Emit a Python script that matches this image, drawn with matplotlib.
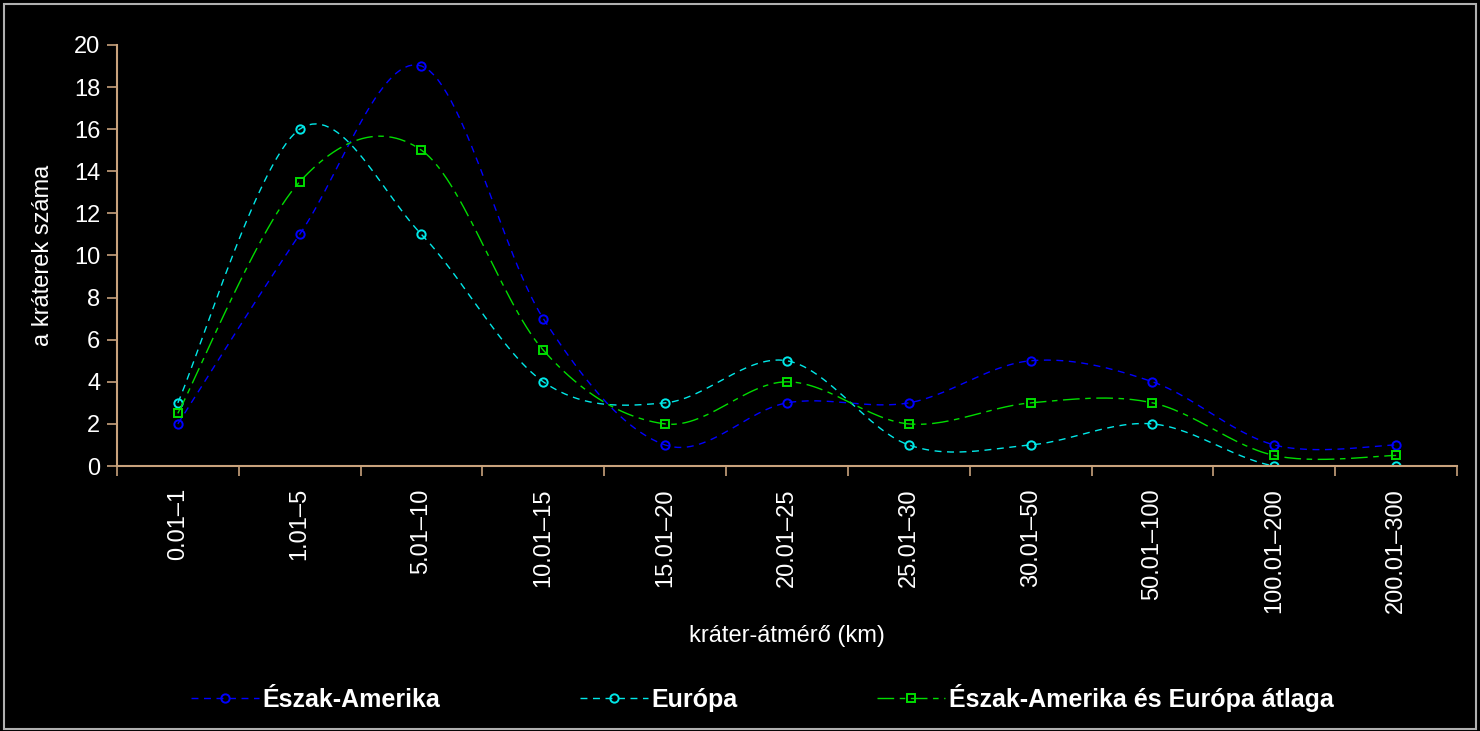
import numpy as np
import matplotlib
matplotlib.use("Agg")
import matplotlib.pyplot as plt
from matplotlib.patches import Rectangle
from matplotlib.lines import Line2D

categories = ["0.01\u20131", "1.01\u20135", "5.01\u201310", "10.01\u201315",
              "15.01\u201320", "20.01\u201325", "25.01\u201330", "30.01\u201350",
              "50.01\u2013100", "100.01\u2013200", "200.01\u2013300"]
north_america = [2, 11, 19, 7, 1, 3, 3, 5, 4, 1, 1]
europe = [3, 16, 11, 4, 3, 5, 1, 1, 2, 0, 0]
average = [2.5, 13.5, 15, 5.5, 2, 4, 2, 3, 3, 0.5, 0.5]

plt.rcParams["font.family"] = ["Liberation Sans", "DejaVu Sans"]

AXIS_COLOR = "#c8a27c"


def smooth(y, steps=30):
    """Catmull-Rom style Bezier smoothing through the points (x = index)."""
    y = np.asarray(y, dtype=float)
    x = np.arange(len(y), dtype=float)
    pts = np.column_stack([x, y])
    ext = np.vstack([pts[0], pts, pts[-1]])
    out = []
    t = np.linspace(0, 1, steps)[:, None]
    for i in range(len(pts) - 1):
        p0, p3 = ext[i + 1], ext[i + 2]
        p1 = p0 + (ext[i + 2] - ext[i]) / 6.0
        p2 = p3 - (ext[i + 3] - ext[i + 1]) / 6.0
        seg = ((1 - t) ** 3) * p0 + 3 * ((1 - t) ** 2) * t * p1 \
            + 3 * (1 - t) * t ** 2 * p2 + t ** 3 * p3
        out.append(seg if i == 0 else seg[1:])
    seg = np.vstack(out)
    return seg[:, 0], seg[:, 1]


fig = plt.figure(figsize=(14.8, 7.31), dpi=100, facecolor="black")
fig.patches.append(Rectangle((0.003, 0.003), 0.994, 0.991, transform=fig.transFigure,
                             fill=False, edgecolor="#b0b0b0", linewidth=1.5))
ax = fig.add_axes([0.079, 0.3625, 0.9055, 0.576])
ax.set_facecolor("black")

series = [
    (north_america, "#0000ff", "o", (0, (5, 4)), "\u00c9szak-Amerika"),
    (europe, "#00e8e8", "o", (0, (5, 4)), "Eur\u00f3pa"),
    (average, "#00dd00", "s", (0, (12, 4, 4, 4)), "\u00c9szak-Amerika \u00e9s Eur\u00f3pa \u00e1tlaga"),
]

x = np.arange(len(categories))
handles = []
for vals, col, mk, ls, label in series:
    sx, sy = smooth(vals)
    ax.plot(sx, sy, color=col, linestyle=ls, linewidth=1.0)
    ax.plot(x, vals, linestyle="none", marker=mk, markersize=6,
            markerfacecolor="none", markeredgecolor=col, markeredgewidth=1.4)
    handles.append(Line2D([], [], color=col, linestyle=ls, linewidth=1.0, marker=mk,
                          markersize=6, markerfacecolor="none",
                          markeredgecolor=col, markeredgewidth=1.4))

ax.set_xlim(-0.5, len(categories) - 0.5)
ax.set_ylim(0, 20)
ax.set_yticks(range(0, 21, 2))
ax.set_xticks(x)
ax.set_xticklabels(categories, rotation=90, color="white", fontsize=17)
ax.set_xticks(np.arange(-0.5, len(categories), 1), minor=True)
ax.tick_params(axis="x", which="major", length=0, pad=16)
ax.tick_params(axis="x", which="minor", length=7, color=AXIS_COLOR, width=1.2)
ax.tick_params(axis="y", length=7, color=AXIS_COLOR, width=1.2, labelcolor="white",
               labelsize=17, pad=5)

for side in ["top", "right"]:
    ax.spines[side].set_visible(False)
for side in ["left", "bottom"]:
    ax.spines[side].set_color(AXIS_COLOR)
    ax.spines[side].set_linewidth(1.5)

ax.set_xlabel("kr\u00e1ter-\u00e1tm\u00e9r\u0151 (km)", color="white", fontsize=17, labelpad=9)
ax.set_ylabel("a kr\u00e1terek sz\u00e1ma", color="white", fontsize=17, labelpad=14)

leg = fig.legend(handles, [s[4] for s in series], loc="center", ncol=3,
                 bbox_to_anchor=(0.515, 0.045), frameon=False, handlelength=2.7,
                 handletextpad=0.15, columnspacing=5.6,
                 prop={"weight": "bold", "size": 18})
for t in leg.get_texts():
    t.set_color("white")

fig.savefig("out.png", dpi=100, facecolor="black")
